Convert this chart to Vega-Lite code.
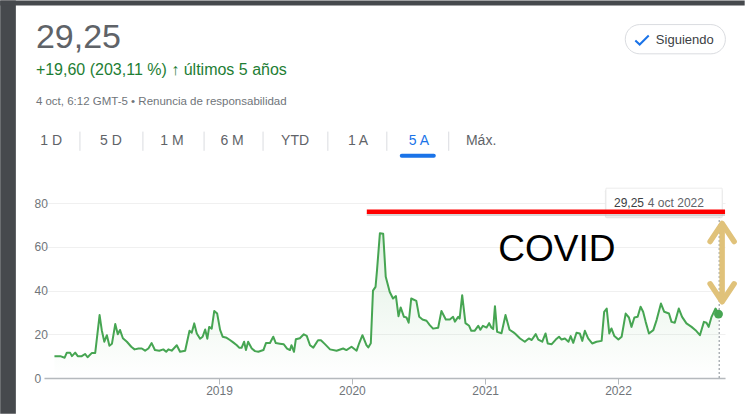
{
  "$schema": "https://vega.github.io/schema/vega-lite/v6.json",
  "width": 729,
  "height": 409,
  "autosize": {"type": "none"},
  "padding": {"left": 16, "top": 5, "right": 0, "bottom": 0},
  "background": "#ffffff",
  "config": {
    "view": {"fill": "#ffffff", "stroke": null},
    "font": "Liberation Sans",
    "text": {"font": "Liberation Sans"}
  },
  "datasets": {
    "vix": [
      {"date":"2017-10-06","v":10.0},{"date":"2017-10-22","v":10.0},{"date":"2017-11-03","v":9.3},{"date":"2017-11-09","v":11.6},
      {"date":"2017-11-18","v":11.6},{"date":"2017-11-23","v":10.0},{"date":"2017-12-02","v":11.6},{"date":"2017-12-09","v":10.0},
      {"date":"2017-12-20","v":10.0},{"date":"2017-12-29","v":11.0},{"date":"2018-01-05","v":9.5},{"date":"2018-01-17","v":11.5},
      {"date":"2018-01-26","v":11.5},{"date":"2018-02-07","v":28.8},{"date":"2018-02-13","v":21.9},{"date":"2018-02-20","v":16.6},
      {"date":"2018-02-27","v":19.6},{"date":"2018-03-06","v":14.8},{"date":"2018-03-13","v":15.7},{"date":"2018-03-22","v":24.7},
      {"date":"2018-03-29","v":20.0},{"date":"2018-04-04","v":22.0},{"date":"2018-04-12","v":18.2},{"date":"2018-04-23","v":16.6},
      {"date":"2018-05-05","v":14.3},{"date":"2018-05-14","v":13.1},{"date":"2018-05-25","v":13.5},{"date":"2018-06-03","v":13.5},
      {"date":"2018-06-12","v":12.5},{"date":"2018-06-21","v":13.5},{"date":"2018-06-30","v":16.0},{"date":"2018-07-09","v":12.8},
      {"date":"2018-07-21","v":12.5},{"date":"2018-08-01","v":13.1},{"date":"2018-08-09","v":12.0},{"date":"2018-08-15","v":13.1},
      {"date":"2018-08-24","v":12.5},{"date":"2018-09-07","v":15.0},{"date":"2018-09-16","v":12.0},{"date":"2018-09-30","v":12.5},
      {"date":"2018-10-12","v":21.6},{"date":"2018-10-18","v":20.7},{"date":"2018-10-25","v":25.0},{"date":"2018-11-01","v":20.4},
      {"date":"2018-11-10","v":18.0},{"date":"2018-11-17","v":18.9},{"date":"2018-11-24","v":22.2},{"date":"2018-11-30","v":18.0},
      {"date":"2018-12-05","v":23.4},{"date":"2018-12-12","v":22.6},{"date":"2018-12-19","v":30.7},{"date":"2018-12-27","v":29.5},
      {"date":"2019-01-04","v":22.0},{"date":"2019-01-11","v":18.9},{"date":"2019-01-22","v":18.4},{"date":"2019-01-31","v":17.4},
      {"date":"2019-02-09","v":16.3},{"date":"2019-02-19","v":15.0},{"date":"2019-02-26","v":13.8},{"date":"2019-03-04","v":13.8},
      {"date":"2019-03-11","v":16.6},{"date":"2019-03-16","v":12.8},{"date":"2019-03-22","v":16.6},{"date":"2019-04-01","v":13.5},
      {"date":"2019-04-10","v":12.3},{"date":"2019-04-19","v":12.0},{"date":"2019-05-03","v":12.8},{"date":"2019-05-10","v":16.0},
      {"date":"2019-05-21","v":16.0},{"date":"2019-05-30","v":18.9},{"date":"2019-06-06","v":16.0},{"date":"2019-06-17","v":15.7},
      {"date":"2019-06-28","v":15.4},{"date":"2019-07-07","v":13.5},{"date":"2019-07-15","v":12.8},{"date":"2019-07-19","v":15.0},
      {"date":"2019-07-26","v":12.0},{"date":"2019-07-31","v":17.7},{"date":"2019-08-11","v":18.2},{"date":"2019-08-22","v":20.0},
      {"date":"2019-08-30","v":19.3},{"date":"2019-09-08","v":15.0},{"date":"2019-09-17","v":13.9},{"date":"2019-09-30","v":17.3},
      {"date":"2019-10-08","v":17.3},{"date":"2019-10-19","v":15.5},{"date":"2019-11-02","v":13.1},{"date":"2019-11-20","v":12.5},
      {"date":"2019-12-08","v":13.5},{"date":"2019-12-17","v":12.8},{"date":"2019-12-31","v":14.3},{"date":"2020-01-14","v":12.5},
      {"date":"2020-01-21","v":15.9},{"date":"2020-01-30","v":19.6},{"date":"2020-02-10","v":15.0},{"date":"2020-02-15","v":14.0},
      {"date":"2020-02-22","v":15.9},{"date":"2020-02-28","v":40.0},{"date":"2020-03-06","v":41.7},{"date":"2020-03-10","v":49.3},
      {"date":"2020-03-18","v":66.3},{"date":"2020-03-27","v":66.0},{"date":"2020-04-03","v":46.3},{"date":"2020-04-14","v":39.4},
      {"date":"2020-04-23","v":36.4},{"date":"2020-05-01","v":37.5},{"date":"2020-05-08","v":28.3},{"date":"2020-05-14","v":32.3},
      {"date":"2020-05-23","v":28.0},{"date":"2020-05-30","v":27.7},{"date":"2020-06-05","v":25.3},{"date":"2020-06-12","v":36.4},
      {"date":"2020-06-26","v":35.3},{"date":"2020-07-04","v":28.0},{"date":"2020-07-13","v":26.8},{"date":"2020-07-24","v":26.2},
      {"date":"2020-08-02","v":24.2},{"date":"2020-08-11","v":22.6},{"date":"2020-08-25","v":23.0},{"date":"2020-09-03","v":30.7},
      {"date":"2020-09-15","v":26.8},{"date":"2020-09-26","v":26.8},{"date":"2020-10-05","v":28.0},{"date":"2020-10-10","v":25.8},
      {"date":"2020-10-19","v":28.0},{"date":"2020-10-23","v":27.2},{"date":"2020-10-30","v":37.9},{"date":"2020-11-08","v":25.1},
      {"date":"2020-11-18","v":23.9},{"date":"2020-11-24","v":21.6},{"date":"2020-12-03","v":21.6},{"date":"2020-12-13","v":23.9},
      {"date":"2020-12-19","v":22.1},{"date":"2020-12-26","v":23.9},{"date":"2021-01-05","v":23.1},{"date":"2021-01-12","v":25.1},
      {"date":"2021-01-18","v":23.1},{"date":"2021-01-23","v":22.4},{"date":"2021-01-28","v":32.9},{"date":"2021-02-03","v":21.1},
      {"date":"2021-02-15","v":20.5},{"date":"2021-02-26","v":28.8},{"date":"2021-03-09","v":22.1},{"date":"2021-03-20","v":20.9},
      {"date":"2021-03-24","v":20.4},{"date":"2021-04-07","v":18.1},{"date":"2021-04-20","v":16.6},{"date":"2021-05-01","v":18.1},
      {"date":"2021-05-09","v":17.4},{"date":"2021-05-20","v":20.1},{"date":"2021-05-27","v":17.6},{"date":"2021-06-07","v":16.6},
      {"date":"2021-06-16","v":20.4},{"date":"2021-06-22","v":15.8},{"date":"2021-07-03","v":15.5},{"date":"2021-07-14","v":17.6},
      {"date":"2021-07-23","v":18.9},{"date":"2021-07-30","v":17.6},{"date":"2021-08-08","v":18.1},{"date":"2021-08-18","v":16.6},
      {"date":"2021-08-24","v":19.2},{"date":"2021-08-31","v":16.1},{"date":"2021-09-09","v":20.7},{"date":"2021-09-18","v":20.4},
      {"date":"2021-09-25","v":17.0},{"date":"2021-10-02","v":21.6},{"date":"2021-10-11","v":18.1},{"date":"2021-10-22","v":15.8},
      {"date":"2021-11-03","v":16.6},{"date":"2021-11-17","v":17.0},{"date":"2021-11-24","v":30.3},{"date":"2021-12-01","v":31.8},
      {"date":"2021-12-08","v":20.4},{"date":"2021-12-14","v":22.7},{"date":"2021-12-22","v":19.2},{"date":"2022-01-02","v":17.6},
      {"date":"2022-01-11","v":18.9},{"date":"2022-01-22","v":29.5},{"date":"2022-01-31","v":27.7},{"date":"2022-02-07","v":23.4},
      {"date":"2022-02-15","v":27.7},{"date":"2022-02-24","v":28.0},{"date":"2022-03-04","v":32.6},{"date":"2022-03-11","v":30.3},
      {"date":"2022-03-18","v":25.7},{"date":"2022-03-27","v":20.4},{"date":"2022-04-08","v":21.9},{"date":"2022-04-17","v":26.5},
      {"date":"2022-04-29","v":34.1},{"date":"2022-05-08","v":30.3},{"date":"2022-05-21","v":29.5},{"date":"2022-05-28","v":25.7},
      {"date":"2022-06-06","v":25.3},{"date":"2022-06-17","v":31.8},{"date":"2022-06-26","v":28.0},{"date":"2022-07-08","v":25.0},
      {"date":"2022-07-22","v":23.4},{"date":"2022-08-02","v":21.9},{"date":"2022-08-14","v":19.6},{"date":"2022-08-25","v":25.7},
      {"date":"2022-09-01","v":25.3},{"date":"2022-09-07","v":23.4},{"date":"2022-09-15","v":28.0},{"date":"2022-09-26","v":31.8},
      {"date":"2022-10-04","v":29.25}
    ]
  },
  "layer": [
    {
      "data": {"name": "vix"},
      "mark": {"type": "area", "color": {"gradient": "linear", "x1": 0, "y1": 0, "x2": 0, "y2": 1, "stops": [{"offset": 0, "color": "rgba(70,165,82,0.16)"}, {"offset": 1, "color": "rgba(70,165,82,0.0)"}]}},
      "encoding": {
        "x": {"field": "date", "type": "temporal", "title": null,
          "scale": {"type": "utc", "domain": [1504768320000, 1666388160000], "range": [28, 709], "nice": false},
          "axis": {"title": null, "values": [1546300800000, 1577836800000, 1609459200000, 1640995200000], "format": "%Y", "offset": -36, "grid": false, "domainColor": "#b5b9bd", "domainWidth": 1.5, "tickColor": "#b5b9bd", "tickSize": 6, "labelColor": "#70757a", "labelFontSize": 12, "labelPadding": 1, "labelFont": "Liberation Sans"}},
        "y": {"field": "v", "type": "quantitative", "title": null,
          "scale": {"domain": [0, 80], "range": [373, 198.25], "nice": false, "zero": false},
          "axis": {"title": null, "values": [0, 20, 40, 60, 80], "orient": "left", "offset": -18, "domain": false, "ticks": false, "tickSize": 0, "labelPadding": 0, "labelAlign": "left", "labelColor": "#70757a", "labelFontSize": 12, "labelFont": "Liberation Sans", "grid": true, "gridColor": "#f0f0f0", "gridWidth": 1}},
        "y2": {"datum": 0}
      }
    },
    {
      "data": {"values": [{}]},
      "mark": {"type": "rect", "color": "#46494d", "opacity": 1},
      "encoding": {
        "x": {"datum": {"year": 2017, "month": 5, "date": 10, "utc": true}, "type": "temporal", "title": null},
        "x2": {"datum": {"year": 2017, "month": 6, "date": 22, "utc": true}},
        "y": {"datum": 172.8, "title": null},
        "y2": {"datum": -16.4}
      }
    },
    {
      "data": {"values": [{}]},
      "mark": {"type": "rect", "color": "#46494d", "opacity": 1},
      "encoding": {
        "x": {"datum": {"year": 2017, "month": 5, "date": 10, "utc": true}, "type": "temporal", "title": null},
        "x2": {"datum": {"year": 2022, "month": 12, "date": 15, "utc": true}},
        "y": {"datum": 172.8, "title": null},
        "y2": {"datum": 170.5}
      }
    },
    {
      "data": {"values": [{}]},
      "mark": {"type": "rule", "color": "#9aa0a6", "strokeDash": [2, 2], "strokeWidth": 1.2},
      "encoding": {
        "x": {"datum": {"year": 2022, "month": 10, "date": 6, "utc": true}, "type": "temporal", "title": null},
        "y": {"datum": 0, "title": null},
        "y2": {"datum": 73.6}
      }
    },
    {
      "data": {"name": "vix"},
      "mark": {"type": "line", "color": "#46a552", "strokeWidth": 2, "strokeJoin": "round"},
      "encoding": {
        "x": {"field": "date", "type": "temporal", "title": null},
        "y": {"field": "v", "type": "quantitative", "title": null}
      }
    },
    {
      "data": {"name": "vix"},
      "transform": [{"filter": "datum.v === 29.25"}],
      "mark": {"type": "circle", "color": "#46a552", "size": 80, "opacity": 1},
      "encoding": {
        "x": {"field": "date", "type": "temporal", "title": null},
        "y": {"field": "v", "type": "quantitative", "title": null}
      }
    },
    {
      "data": {"values": [{}]},
      "mark": {"type": "rect", "color": "#e2e2e2", "cornerRadius": 2, "opacity": 0.8},
      "encoding": {
        "x": {"datum": {"year": 2021, "month": 11, "date": 26, "utc": true}, "type": "temporal", "title": null},
        "x2": {"datum": {"year": 2022, "month": 10, "date": 16, "utc": true}},
        "y": {"datum": 86.4, "title": null},
        "y2": {"datum": 73.1}
      }
    },
    {
      "data": {"values": [{}]},
      "mark": {"type": "rect", "fill": "#ffffff", "stroke": "#ececec", "strokeWidth": 1},
      "encoding": {
        "x": {"datum": {"year": 2021, "month": 11, "date": 29, "utc": true}, "type": "temporal", "title": null},
        "x2": {"datum": {"year": 2022, "month": 10, "date": 14, "utc": true}},
        "y": {"datum": 86.9, "title": null},
        "y2": {"datum": 74.1}
      }
    },
    {
      "data": {"values": [{}]},
      "mark": {"type": "text", "text": "29,25", "align": "left", "baseline": "middle", "fontSize": 12, "color": "#3c4043"},
      "encoding": {
        "x": {"datum": {"year": 2021, "month": 12, "date": 21, "utc": true}, "type": "temporal", "title": null},
        "y": {"datum": 80.1, "title": null}
      }
    },
    {
      "data": {"values": [{}]},
      "mark": {"type": "text", "text": "4 oct 2022", "align": "left", "baseline": "middle", "fontSize": 12, "color": "#5f6368"},
      "encoding": {
        "x": {"datum": {"year": 2022, "month": 3, "date": 24, "utc": true}, "type": "temporal", "title": null},
        "y": {"datum": 80.1, "title": null}
      }
    },
    {
      "data": {"values": [{}]},
      "mark": {"type": "rule", "color": "#bdbdbd", "strokeWidth": 3, "opacity": 0.6},
      "encoding": {
        "x": {"datum": {"year": 2020, "month": 2, "date": 11, "utc": true}, "type": "temporal", "title": null},
        "x2": {"datum": {"year": 2022, "month": 10, "date": 22, "utc": true}},
        "y": {"datum": 74.9, "title": null}
      }
    },
    {
      "data": {"values": [{}]},
      "mark": {"type": "rule", "color": "#ff0000", "strokeWidth": 4.5},
      "encoding": {
        "x": {"datum": {"year": 2020, "month": 2, "date": 11, "utc": true}, "type": "temporal", "title": null},
        "x2": {"datum": {"year": 2022, "month": 10, "date": 22, "utc": true}},
        "y": {"datum": 76.1, "title": null}
      }
    },
    {
      "data": {"values": [{}]},
      "mark": {"type": "text", "text": "COVID", "align": "center", "baseline": "middle", "fontSize": 37, "color": "#000000"},
      "encoding": {
        "x": {"datum": {"year": 2021, "month": 7, "date": 17, "utc": true}, "type": "temporal", "title": null},
        "y": {"datum": 58.5, "title": null}
      }
    },
    {
      "data": {"values": [{}]},
      "mark": {"type": "rule", "color": "#e0c27a", "strokeWidth": 5.5, "strokeCap": "round"},
      "encoding": {
        "x": {"datum": {"year": 2022, "month": 10, "date": 14, "utc": true}, "type": "temporal", "title": null},
        "y": {"datum": 70.2, "title": null},
        "y2": {"datum": 35.7}
      }
    },
    {
      "data": {"values": [{}]},
      "mark": {"type": "point", "shape": "M-1,0.75L0,-0.75L1,0.75", "size": 576, "filled": false, "stroke": "#e0c27a", "strokeWidth": 5.5, "strokeCap": "round", "strokeJoin": "round", "opacity": 1},
      "encoding": {
        "x": {"datum": {"year": 2022, "month": 10, "date": 14, "utc": true}, "type": "temporal", "title": null},
        "y": {"datum": 66.6, "title": null}
      }
    },
    {
      "data": {"values": [{}]},
      "mark": {"type": "point", "shape": "M-1,-0.75L0,0.75L1,-0.75", "size": 576, "filled": false, "stroke": "#e0c27a", "strokeWidth": 5.5, "strokeCap": "round", "strokeJoin": "round", "opacity": 1},
      "encoding": {
        "x": {"datum": {"year": 2022, "month": 10, "date": 14, "utc": true}, "type": "temporal", "title": null},
        "y": {"datum": 39.0, "title": null}
      }
    },
    {
      "data": {"values": [{}]},
      "mark": {"type": "text", "text": "29,25", "align": "left", "baseline": "alphabetic", "fontSize": 34, "color": "#5f6368"},
      "encoding": {
        "x": {"datum": {"year": 2017, "month": 8, "date": 16, "utc": true}, "type": "temporal", "title": null},
        "y": {"datum": 151.3, "title": null}
      }
    },
    {
      "data": {"values": [{}]},
      "mark": {"type": "text", "text": "+19,60 (203,11 %) ↑ últimos 5 años", "align": "left", "baseline": "alphabetic", "fontSize": 16, "color": "#1e7e34"},
      "encoding": {
        "x": {"datum": {"year": 2017, "month": 8, "date": 16, "utc": true}, "type": "temporal", "title": null},
        "y": {"datum": 138.5, "title": null}
      }
    },
    {
      "data": {"values": [{}]},
      "mark": {"type": "text", "text": "4 oct, 6:12 GMT-5 • Renuncia de responsabilidad", "align": "left", "baseline": "alphabetic", "fontSize": 11.5, "color": "#70757a"},
      "encoding": {
        "x": {"datum": {"year": 2017, "month": 8, "date": 16, "utc": true}, "type": "temporal", "title": null},
        "y": {"datum": 125.1, "title": null}
      }
    },
    {
      "data": {"values": [{}]},
      "mark": {"type": "rect", "fill": "#ffffff", "stroke": "#dadce0", "strokeWidth": 1, "cornerRadius": 14.5},
      "encoding": {
        "x": {"datum": {"year": 2022, "month": 1, "date": 21, "utc": true}, "type": "temporal", "title": null},
        "x2": {"datum": {"year": 2022, "month": 10, "date": 23, "utc": true}},
        "y": {"datum": 161.8, "title": null},
        "y2": {"datum": 148.4}
      }
    },
    {
      "data": {"values": [{}]},
      "mark": {"type": "point", "shape": "M-1,0.05L-0.35,0.67L1,-0.67", "size": 180, "filled": false, "stroke": "#1a73e8", "strokeWidth": 2, "opacity": 1},
      "encoding": {
        "x": {"datum": {"year": 2022, "month": 3, "date": 8, "utc": true}, "type": "temporal", "title": null},
        "y": {"datum": 154.7, "title": null}
      }
    },
    {
      "data": {"values": [{}]},
      "mark": {"type": "text", "text": "Siguiendo", "align": "left", "baseline": "middle", "fontSize": 13, "color": "#3c4043"},
      "encoding": {
        "x": {"datum": {"year": 2022, "month": 4, "date": 15, "utc": true}, "type": "temporal", "title": null},
        "y": {"datum": 154.7, "title": null}
      }
    },
    {"data": {"values": [{}]}, "mark": {"type": "text", "text": "1 D", "align": "center", "baseline": "middle", "fontSize": 14, "color": "#5f6368"},
      "encoding": {"x": {"datum": {"year": 2017, "month": 9, "date": 27, "utc": true}, "type": "temporal", "title": null}, "y": {"datum": 108.3, "title": null}}},
    {"data": {"values": [{}]}, "mark": {"type": "text", "text": "5 D", "align": "center", "baseline": "middle", "fontSize": 14, "color": "#5f6368"},
      "encoding": {"x": {"datum": {"year": 2018, "month": 3, "date": 10, "utc": true}, "type": "temporal", "title": null}, "y": {"datum": 108.3, "title": null}}},
    {"data": {"values": [{}]}, "mark": {"type": "text", "text": "1 M", "align": "center", "baseline": "middle", "fontSize": 14, "color": "#5f6368"},
      "encoding": {"x": {"datum": {"year": 2018, "month": 8, "date": 25, "utc": true}, "type": "temporal", "title": null}, "y": {"datum": 108.3, "title": null}}},
    {"data": {"values": [{}]}, "mark": {"type": "text", "text": "6 M", "align": "center", "baseline": "middle", "fontSize": 14, "color": "#5f6368"},
      "encoding": {"x": {"datum": {"year": 2019, "month": 2, "date": 6, "utc": true}, "type": "temporal", "title": null}, "y": {"datum": 108.3, "title": null}}},
    {"data": {"values": [{}]}, "mark": {"type": "text", "text": "YTD", "align": "center", "baseline": "middle", "fontSize": 14, "color": "#5f6368"},
      "encoding": {"x": {"datum": {"year": 2019, "month": 7, "date": 29, "utc": true}, "type": "temporal", "title": null}, "y": {"datum": 108.3, "title": null}}},
    {"data": {"values": [{}]}, "mark": {"type": "text", "text": "1 A", "align": "center", "baseline": "middle", "fontSize": 14, "color": "#5f6368"},
      "encoding": {"x": {"datum": {"year": 2020, "month": 1, "date": 18, "utc": true}, "type": "temporal", "title": null}, "y": {"datum": 108.3, "title": null}}},
    {"data": {"values": [{}]}, "mark": {"type": "text", "text": "5 A", "align": "center", "baseline": "middle", "fontSize": 14, "color": "#1a73e8"},
      "encoding": {"x": {"datum": {"year": 2020, "month": 7, "date": 3, "utc": true}, "type": "temporal", "title": null}, "y": {"datum": 108.3, "title": null}}},
    {"data": {"values": [{}]}, "mark": {"type": "text", "text": "Máx.", "align": "center", "baseline": "middle", "fontSize": 14, "color": "#5f6368"},
      "encoding": {"x": {"datum": {"year": 2020, "month": 12, "date": 21, "utc": true}, "type": "temporal", "title": null}, "y": {"datum": 108.3, "title": null}}},
    {"data": {"values": [{}]}, "mark": {"type": "rule", "color": "#1a73e8", "strokeWidth": 4, "strokeCap": "round"},
      "encoding": {"x": {"datum": {"year": 2020, "month": 5, "date": 17, "utc": true}, "type": "temporal", "title": null}, "x2": {"datum": {"year": 2020, "month": 8, "date": 13, "utc": true}}, "y": {"datum": 101.8, "title": null}}},
    {"data": {"values": [{}]}, "mark": {"type": "rule", "color": "#dadce0", "strokeWidth": 1},
      "encoding": {"x": {"datum": {"year": 2017, "month": 12, "date": 15, "utc": true}, "type": "temporal", "title": null}, "y": {"datum": 112.8, "title": null}, "y2": {"datum": 104.0}}},
    {"data": {"values": [{}]}, "mark": {"type": "rule", "color": "#dadce0", "strokeWidth": 1},
      "encoding": {"x": {"datum": {"year": 2018, "month": 6, "date": 6, "utc": true}, "type": "temporal", "title": null}, "y": {"datum": 112.8, "title": null}, "y2": {"datum": 104.0}}},
    {"data": {"values": [{}]}, "mark": {"type": "rule", "color": "#dadce0", "strokeWidth": 1},
      "encoding": {"x": {"datum": {"year": 2018, "month": 11, "date": 21, "utc": true}, "type": "temporal", "title": null}, "y": {"datum": 112.8, "title": null}, "y2": {"datum": 104.0}}},
    {"data": {"values": [{}]}, "mark": {"type": "rule", "color": "#dadce0", "strokeWidth": 1},
      "encoding": {"x": {"datum": {"year": 2019, "month": 5, "date": 2, "utc": true}, "type": "temporal", "title": null}, "y": {"datum": 112.8, "title": null}, "y2": {"datum": 104.0}}},
    {"data": {"values": [{}]}, "mark": {"type": "rule", "color": "#dadce0", "strokeWidth": 1},
      "encoding": {"x": {"datum": {"year": 2019, "month": 10, "date": 27, "utc": true}, "type": "temporal", "title": null}, "y": {"datum": 112.8, "title": null}, "y2": {"datum": 104.0}}},
    {"data": {"values": [{}]}, "mark": {"type": "rule", "color": "#dadce0", "strokeWidth": 1},
      "encoding": {"x": {"datum": {"year": 2020, "month": 4, "date": 6, "utc": true}, "type": "temporal", "title": null}, "y": {"datum": 112.8, "title": null}, "y2": {"datum": 104.0}}},
    {"data": {"values": [{}]}, "mark": {"type": "rule", "color": "#dadce0", "strokeWidth": 1},
      "encoding": {"x": {"datum": {"year": 2020, "month": 9, "date": 23, "utc": true}, "type": "temporal", "title": null}, "y": {"datum": 112.8, "title": null}, "y2": {"datum": 104.0}}}
  ]
}
